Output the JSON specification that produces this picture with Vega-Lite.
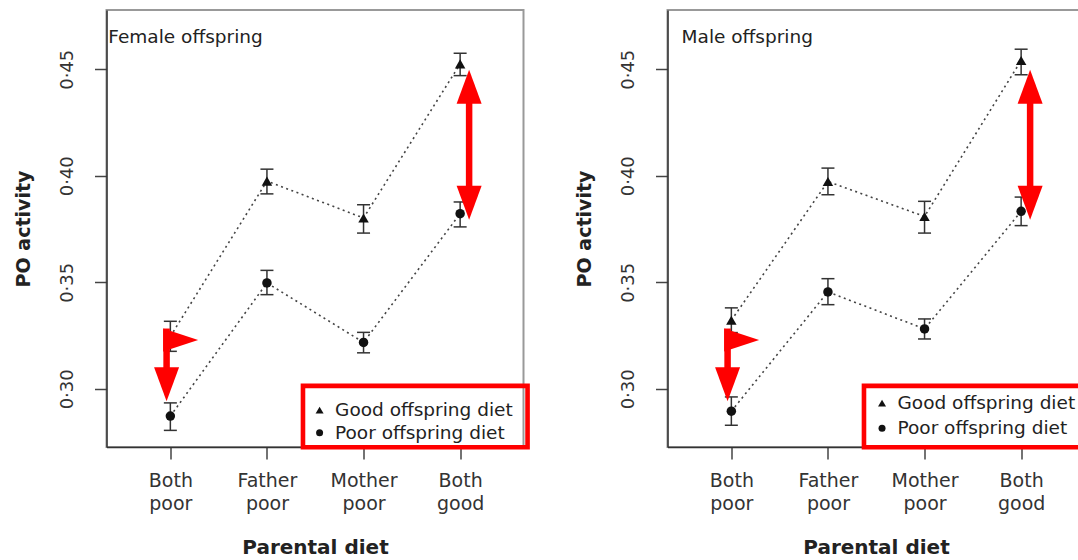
{
  "$schema": "https://vega.github.io/schema/vega-lite/v6.json",
  "background": "white",
  "padding": {"left": 13.5, "top": 9, "right": 0, "bottom": 0},
  "autosize": {"type": "pad"},
  "bounds": "flush",
  "spacing": 144,
  "data": {
    "values": [
      {"t": "pt", "panel": "Female", "pos": 1, "diet": "Good", "mean": 0.3246, "lo": 0.3176, "hi": 0.3317},
      {"t": "pt", "panel": "Female", "pos": 1, "diet": "Poor", "mean": 0.2872, "lo": 0.2805, "hi": 0.2934},
      {"t": "pt", "panel": "Female", "pos": 2, "diet": "Good", "mean": 0.3975, "lo": 0.3915, "hi": 0.4031},
      {"t": "pt", "panel": "Female", "pos": 2, "diet": "Poor", "mean": 0.3497, "lo": 0.3442, "hi": 0.3556},
      {"t": "pt", "panel": "Female", "pos": 3, "diet": "Good", "mean": 0.3802, "lo": 0.3731, "hi": 0.3864},
      {"t": "pt", "panel": "Female", "pos": 3, "diet": "Poor", "mean": 0.3218, "lo": 0.3169, "hi": 0.3265},
      {"t": "pt", "panel": "Female", "pos": 4, "diet": "Good", "mean": 0.4525, "lo": 0.4470, "hi": 0.4575},
      {"t": "pt", "panel": "Female", "pos": 4, "diet": "Poor", "mean": 0.3822, "lo": 0.3760, "hi": 0.3877},
      {"t": "pt", "panel": "Male", "pos": 1, "diet": "Good", "mean": 0.3322, "lo": 0.3264, "hi": 0.3380},
      {"t": "pt", "panel": "Male", "pos": 1, "diet": "Poor", "mean": 0.2895, "lo": 0.2829, "hi": 0.2962},
      {"t": "pt", "panel": "Male", "pos": 2, "diet": "Good", "mean": 0.3973, "lo": 0.3911, "hi": 0.4036},
      {"t": "pt", "panel": "Male", "pos": 2, "diet": "Poor", "mean": 0.3455, "lo": 0.3395, "hi": 0.3517},
      {"t": "pt", "panel": "Male", "pos": 3, "diet": "Good", "mean": 0.3809, "lo": 0.3731, "hi": 0.3880},
      {"t": "pt", "panel": "Male", "pos": 3, "diet": "Poor", "mean": 0.3281, "lo": 0.3234, "hi": 0.3328},
      {"t": "pt", "panel": "Male", "pos": 4, "diet": "Good", "mean": 0.4541, "lo": 0.4474, "hi": 0.4594},
      {"t": "pt", "panel": "Male", "pos": 4, "diet": "Poor", "mean": 0.3833, "lo": 0.3766, "hi": 0.3900},
      {"t": "lab", "panel": "Female", "tx": 0.358, "ty": 0.4625, "label": "Female offspring"},
      {"t": "lab", "panel": "Male", "tx": 0.485, "ty": 0.4625, "label": "Male offspring"},
      {"t": "box", "panel": "Female", "x1": 2.373, "x2": 4.698, "y1": 0.3014, "y2": 0.2726},
      {"t": "box", "panel": "Male", "x1": 2.373, "x2": 4.698, "y1": 0.3014, "y2": 0.2726},
      {"t": "leg", "panel": "Female", "kind": "Good", "lx": 2.545, "tx": 2.705, "ly": 0.2900, "label": "Good offspring diet"},
      {"t": "leg", "panel": "Female", "kind": "Poor", "lx": 2.545, "tx": 2.705, "ly": 0.2794, "label": "Poor offspring diet"},
      {"t": "leg", "panel": "Male", "kind": "Good", "lx": 2.56, "tx": 2.72, "ly": 0.2933, "label": "Good offspring diet"},
      {"t": "leg", "panel": "Male", "kind": "Poor", "lx": 2.56, "tx": 2.72, "ly": 0.2815, "label": "Poor offspring diet"},
      {"t": "shaft", "panel": "Female", "ax": 4.093, "y1": 0.4355, "y2": 0.3945},
      {"t": "shaft", "panel": "Female", "ax": 0.961, "y1": 0.3283, "y2": 0.3095},
      {"t": "shaft", "panel": "Male", "ax": 4.093, "y1": 0.4355, "y2": 0.3945},
      {"t": "shaft", "panel": "Male", "ax": 0.961, "y1": 0.3283, "y2": 0.3095},
      {"t": "up", "panel": "Female", "ax": 4.093, "ay": 0.4497},
      {"t": "down", "panel": "Female", "ax": 4.093, "ay": 0.3794},
      {"t": "down", "panel": "Female", "ax": 0.961, "ay": 0.2942},
      {"t": "flag", "panel": "Female", "ax": 0.9255, "ay": 0.3229},
      {"t": "up", "panel": "Male", "ax": 4.093, "ay": 0.4497},
      {"t": "down", "panel": "Male", "ax": 4.093, "ay": 0.3794},
      {"t": "down", "panel": "Male", "ax": 0.961, "ay": 0.2942},
      {"t": "flag", "panel": "Male", "ax": 0.9255, "ay": 0.3229}
    ]
  },
  "facet": {
    "column": {"field": "panel", "type": "nominal", "sort": ["Female", "Male"], "header": {"labels": false, "title": null}}
  },
  "resolve": {"axis": {"y": "independent", "x": "independent"}},
  "spec": {
    "width": 417,
    "height": 437,
    "layer": [
      {
        "transform": [{"filter": "datum.t == 'pt'"}],
        "mark": {"type": "line", "color": "#444", "strokeWidth": 1.6, "strokeDash": [2, 3.5]},
        "encoding": {
          "x": {"field": "pos", "type": "quantitative", "scale": {"domain": [0.339, 4.656], "nice": false, "zero": false},
            "axis": {
              "values": [1, 2, 3, 4],
              "labelExpr": "datum.value == 1 ? ['Both','poor'] : datum.value == 2 ? ['Father','poor'] : datum.value == 3 ? ['Mother','poor'] : ['Both','good']",
              "title": "Parental diet"
            }},
          "y": {"field": "mean", "type": "quantitative", "scale": {"domain": [0.2727, 0.4778], "nice": false, "zero": false},
            "axis": {
              "values": [0.30, 0.35, 0.40, 0.45],
              "labelExpr": "replace(format(datum.value, '.2f'), '.', '·')",
              "title": "PO activity"
            }},
          "detail": {"field": "diet"}
        }
      },
      {
        "transform": [{"filter": "datum.t == 'pt'"}],
        "mark": {"type": "rule", "color": "#333", "strokeWidth": 1.5},
        "encoding": {
          "x": {"field": "pos", "type": "quantitative"},
          "y": {"field": "lo", "type": "quantitative"},
          "y2": {"field": "hi"}
        }
      },
      {
        "transform": [{"filter": "datum.t == 'pt'"}],
        "mark": {"type": "tick", "orient": "horizontal", "color": "#333", "size": 13, "thickness": 1.5, "opacity": 1},
        "encoding": {
          "x": {"field": "pos", "type": "quantitative"},
          "y": {"field": "lo", "type": "quantitative"}
        }
      },
      {
        "transform": [{"filter": "datum.t == 'pt'"}],
        "mark": {"type": "tick", "orient": "horizontal", "color": "#333", "size": 13, "thickness": 1.5, "opacity": 1},
        "encoding": {
          "x": {"field": "pos", "type": "quantitative"},
          "y": {"field": "hi", "type": "quantitative"}
        }
      },
      {
        "transform": [{"filter": "datum.t == 'pt' && datum.diet == 'Good'"}],
        "mark": {"type": "point", "shape": "triangle-up", "filled": true, "size": 110, "color": "#111", "opacity": 1},
        "encoding": {
          "x": {"field": "pos", "type": "quantitative"},
          "y": {"field": "mean", "type": "quantitative"}
        }
      },
      {
        "transform": [{"filter": "datum.t == 'pt' && datum.diet == 'Poor'"}],
        "mark": {"type": "point", "shape": "circle", "filled": true, "size": 90, "color": "#111", "opacity": 1},
        "encoding": {
          "x": {"field": "pos", "type": "quantitative"},
          "y": {"field": "mean", "type": "quantitative"}
        }
      },
      {
        "transform": [{"filter": "datum.t == 'lab'"}],
        "mark": {"type": "text", "align": "left", "baseline": "alphabetic", "font": "DejaVu Sans", "fontSize": 18.5, "color": "#222"},
        "encoding": {
          "x": {"field": "tx", "type": "quantitative"},
          "y": {"field": "ty", "type": "quantitative"},
          "text": {"field": "label"}
        }
      },
      {
        "transform": [{"filter": "datum.t == 'box'"}],
        "mark": {"type": "rect", "fill": "transparent", "stroke": "#ff0000", "strokeWidth": 4.6},
        "encoding": {
          "x": {"field": "x1", "type": "quantitative"},
          "x2": {"field": "x2"},
          "y": {"field": "y1", "type": "quantitative"},
          "y2": {"field": "y2"}
        }
      },
      {
        "transform": [{"filter": "datum.t == 'leg' && datum.kind == 'Good'"}],
        "mark": {"type": "point", "shape": "triangle-up", "filled": true, "size": 64, "color": "#111", "opacity": 1},
        "encoding": {
          "x": {"field": "lx", "type": "quantitative"},
          "y": {"field": "ly", "type": "quantitative"}
        }
      },
      {
        "transform": [{"filter": "datum.t == 'leg' && datum.kind == 'Poor'"}],
        "mark": {"type": "point", "shape": "circle", "filled": true, "size": 49, "color": "#111", "opacity": 1},
        "encoding": {
          "x": {"field": "lx", "type": "quantitative"},
          "y": {"field": "ly", "type": "quantitative"}
        }
      },
      {
        "transform": [{"filter": "datum.t == 'leg'"}],
        "mark": {"type": "text", "align": "left", "baseline": "middle", "font": "DejaVu Sans", "fontSize": 18.5, "color": "#222"},
        "encoding": {
          "x": {"field": "tx", "type": "quantitative"},
          "y": {"field": "ly", "type": "quantitative"},
          "text": {"field": "label"}
        }
      },
      {
        "transform": [{"filter": "datum.t == 'shaft'"}],
        "mark": {"type": "rule", "color": "#ff0000", "strokeWidth": 6.5},
        "encoding": {
          "x": {"field": "ax", "type": "quantitative"},
          "y": {"field": "y1", "type": "quantitative"},
          "y2": {"field": "y2"}
        }
      },
      {
        "transform": [{"filter": "datum.t == 'up'"}],
        "mark": {"type": "point", "shape": "M0,0L-0.725,1.971L0.725,1.971Z", "filled": true, "size": 1190, "color": "#ff0000", "opacity": 1, "strokeWidth": 0},
        "encoding": {
          "x": {"field": "ax", "type": "quantitative"},
          "y": {"field": "ay", "type": "quantitative"}
        }
      },
      {
        "transform": [{"filter": "datum.t == 'down'"}],
        "mark": {"type": "point", "shape": "M0,0L-0.725,-1.971L0.725,-1.971Z", "filled": true, "size": 1190, "color": "#ff0000", "opacity": 1, "strokeWidth": 0},
        "encoding": {
          "x": {"field": "ax", "type": "quantitative"},
          "y": {"field": "ay", "type": "quantitative"}
        }
      },
      {
        "transform": [{"filter": "datum.t == 'flag'"}],
        "mark": {"type": "point", "shape": "M0,-0.667L2.029,0L0,0.667Z", "filled": true, "size": 1190, "color": "#ff0000", "opacity": 1, "strokeWidth": 0},
        "encoding": {
          "x": {"field": "ax", "type": "quantitative"},
          "y": {"field": "ay", "type": "quantitative"}
        }
      }
    ]
  },
  "config": {
    "view": {"stroke": "#999", "strokeWidth": 2},
    "axis": {
      "grid": false,
      "domainColor": "#333",
      "domainWidth": 1.5,
      "tickColor": "#444",
      "tickWidth": 1.5,
      "tickSize": 12,
      "labelColor": "#333",
      "labelFont": "DejaVu Sans",
      "titleFont": "DejaVu Sans",
      "titleFontWeight": "bold",
      "titleColor": "#222",
      "labelOverlap": false,
      "labelFlush": false
    },
    "axisX": {
      "labelFontSize": 19,
      "labelLineHeight": 23.5,
      "labelPadding": 12,
      "labelAngle": 0,
      "titleFontSize": 20,
      "titlePadding": 24
    },
    "axisY": {
      "labelFontSize": 18,
      "labelAngle": -90,
      "labelAlign": "center",
      "labelBaseline": "bottom",
      "labelPadding": 18.5,
      "titleFontSize": 19,
      "titlePadding": 24.5
    }
  }
}
